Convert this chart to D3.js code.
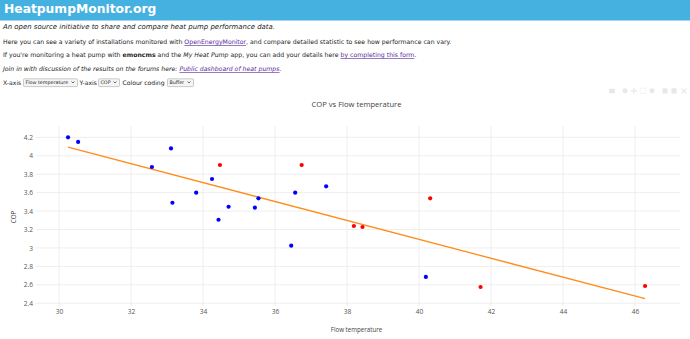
<!DOCTYPE html>
<html><head><meta charset="utf-8">
<script src="https://cdn.jsdelivr.net/npm/d3@7"></script>
<style>
html,body{margin:0;padding:0;background:#fff;overflow:hidden;}
svg{display:block;}
</style></head>
<body>
<svg id="c" width="690" height="339"></svg>
<script>
// ---- data ----
const flowTemp = [30.25, 30.53, 32.58, 33.11, 33.15, 33.81, 34.25, 34.47, 34.43, 34.71, 35.44,
                  35.54, 36.45, 36.56, 36.74, 37.42, 38.19, 38.43, 40.31, 40.19, 41.71, 46.28];
const cop      = [4.20, 4.15, 3.878, 4.08, 3.49, 3.60, 3.748, 3.90, 3.306, 3.447, 3.437,
                  3.538, 3.024, 3.60, 3.90, 3.668, 3.238, 3.227, 3.538, 2.685, 2.576, 2.587];
const buffer   = [0, 0, 0, 0, 0, 0, 0, 1, 0, 0, 0,
                  0, 0, 0, 1, 0, 1, 1, 1, 0, 1, 1];
const xTicks = [30, 32, 34, 36, 38, 40, 42, 44, 46];
const yTicks = [2.4, 2.6, 2.8, 3, 3.2, 3.4, 3.6, 3.8, 4, 4.2];
const chartTitle = "COP vs Flow temperature";
const xTitle = "Flow temperature";
const yTitle = "COP";

const svg = d3.select("#c");
const FONT = "'DejaVu Sans', Verdana, sans-serif";
const PFONT = "'Open Sans', Arial, sans-serif";

// ---- page header ----
svg.append("rect").attr("x",0).attr("y",0).attr("width",690).attr("height",20.5).attr("fill","#44b1e0");
svg.append("text").attr("x",4).attr("y",13.2).attr("fill","#fff")
  .attr("font-family",FONT).attr("font-weight","bold").attr("font-size",12.3)
  .text("HeatpumpMonitor.org");

function line(y, parts, italic, size){
  const t = svg.append("text").attr("x",3).attr("y",y).attr("font-family",FONT)
    .attr("font-size",size || 6.2).attr("fill","#222").attr("font-style", italic ? "italic" : null);
  parts.forEach(p=>{
    const s = t.append("tspan").text(p.t);
    if(p.link){ s.attr("fill","#5b2a9a").attr("text-decoration","underline"); }
    if(p.b){ s.attr("font-weight","bold"); }
    if(p.i){ s.attr("font-style","italic"); }
  });
  return t;
}
line(29.3, [{t:"An open source initiative to share and compare heat pump performance data."}], true, 6.95);
line(44.3, [{t:"Here you can see a variety of installations monitored with "},{t:"OpenEnergyMonitor",link:1},
  {t:", and compare detailed statistic to see how performance can vary."}]);
line(57.3, [{t:"If you're monitoring a heat pump with "},{t:"emoncms",b:1},{t:" and the "},{t:"My Heat Pump",i:1},
  {t:" app, you can add your details here "},{t:"by completing this form",link:1},{t:"."}]);
line(71.3, [{t:"Join in with discussion of the results on the forums here: "},{t:"Public dashboard of heat pumps",link:1},{t:"."}], true);

// controls row
const ctrlY = 85;
function label(x, s){
  svg.append("text").attr("x",x).attr("y",ctrlY).attr("font-family",FONT).attr("font-size",6.1)
    .attr("fill","#222").text(s);
}
function select(x, w, s){
  const g = svg.append("g");
  g.append("rect").attr("x",x).attr("y",78.8).attr("width",w).attr("height",7.8).attr("rx",1)
    .attr("fill","#f4f4f4").attr("stroke","#aaa").attr("stroke-width",0.6);
  g.append("text").attr("x",x+2).attr("y",84.4).attr("font-family",FONT).attr("font-size",4.8)
    .attr("fill","#222").text(s);
  g.append("path").attr("d",`M${x+w-6},81.5 l1.5,1.5 l1.5,-1.5`).attr("fill","none")
    .attr("stroke","#333").attr("stroke-width",0.7);
}
label(3,"X-axis"); select(23.5,54,"Flow temperature");
label(79.5,"Y-axis"); select(98.5,21,"COP");
label(122.5,"Colour coding"); select(167.5,26,"Buffer");

// modebar (faint)
const mc = "#e8e8e8";
const mb = svg.append("g").attr("fill",mc);
[612,625,634,643,652,665,674,684].forEach((x,i)=>{
  if(i===0) mb.append("rect").attr("x",x-3).attr("y",88.8).attr("width",6).attr("height",4.5).attr("rx",1);
  else if(i===1||i===4) mb.append("circle").attr("cx",x).attr("cy",90.8).attr("r",2.5);
  else if(i===2) mb.append("path").attr("d",`M${x-3},90.8h6M${x},87.8v6`).attr("stroke",mc).attr("stroke-width",1.2);
  else if(i===3) mb.append("rect").attr("x",x-2.8).attr("y",88.1).attr("width",5.6).attr("height",5.4).attr("fill","none").attr("stroke",mc).attr("stroke-dasharray","1,1");
  else if(i===7) mb.append("path").attr("d",`M${x-2.5},88.3l5,5M${x+2.5},88.3l-5,5`).attr("stroke",mc).attr("stroke-width",1.2);
  else mb.append("rect").attr("x",x-2.6).attr("y",88.3).attr("width",5.2).attr("height",5.2).attr("rx",0.8);
});

// ---- chart ----
const x = d3.scaleLinear().domain([29.36, 47.25]).range([36, 680]);
const y = d3.scaleLinear().domain([2.37, 4.323]).range([306, 126]);

const plot = svg.append("g");
// grid
plot.selectAll(".gx").data(xTicks).join("line")
  .attr("x1",d=>x(d)).attr("x2",d=>x(d)).attr("y1",126).attr("y2",306)
  .attr("stroke","#eeeeee").attr("stroke-width",1);
plot.selectAll(".gy").data(yTicks).join("line")
  .attr("x1",36).attr("x2",680).attr("y1",d=>y(d)).attr("y2",d=>y(d))
  .attr("stroke","#eeeeee").attr("stroke-width",1);

// axes (labels only, plotly style)
const xAxis = d3.axisBottom(x).tickValues(xTicks).tickSize(0).tickPadding(0).tickFormat(d3.format("~g"));
const gx = svg.append("g").attr("transform","translate(0,309)").call(xAxis);
gx.select(".domain").remove();
gx.selectAll("text").attr("font-family",PFONT).attr("font-size",6.6).attr("fill","#555").attr("dy","0.71em");

const yAxis = d3.axisLeft(y).tickValues(yTicks).tickSize(0).tickPadding(0).tickFormat(d3.format("~g"));
const gy = svg.append("g").attr("transform","translate(33,0)").call(yAxis);
gy.select(".domain").remove();
gy.selectAll("text").attr("font-family",PFONT).attr("font-size",6.6).attr("fill","#555");

// trendline (least squares fit of the data)
const n = flowTemp.length;
const mx = d3.mean(flowTemp), my = d3.mean(cop);
let sxy = 0, sxx = 0;
for(let i=0;i<n;i++){ sxy += (flowTemp[i]-mx)*(cop[i]-my); sxx += (flowTemp[i]-mx)**2; }
const slope = sxy/sxx, icpt = my - slope*mx;
const ext = d3.extent(flowTemp);
const trend = ext.map(v=>[v, icpt + slope*v]);
plot.append("path").datum(trend)
  .attr("d", d3.line().x(d=>x(d[0])).y(d=>y(d[1])))
  .attr("fill","none").attr("stroke","#ff8c1a").attr("stroke-width",1.3);

// points
plot.selectAll(".pt").data(d3.range(n)).join("circle")
  .attr("cx",i=>x(flowTemp[i])).attr("cy",i=>y(cop[i])).attr("r",2.1)
  .attr("fill",i=>buffer[i] ? "#ff0000" : "#0000ff");

// titles
svg.append("text").attr("x",356.5).attr("y",106.7).attr("text-anchor","middle")
  .attr("font-family",PFONT).attr("font-size",7.6).attr("fill","#444").text(chartTitle);
svg.append("text").attr("x",356.5).attr("y",331.8).attr("text-anchor","middle")
  .attr("font-family",PFONT).attr("font-size",6.2).attr("fill","#444").text(xTitle);
svg.append("text").attr("transform","translate(16,217) rotate(-90)").attr("text-anchor","middle")
  .attr("font-family",PFONT).attr("font-size",6.2).attr("fill","#444").text(yTitle);
</script>
</body></html>
